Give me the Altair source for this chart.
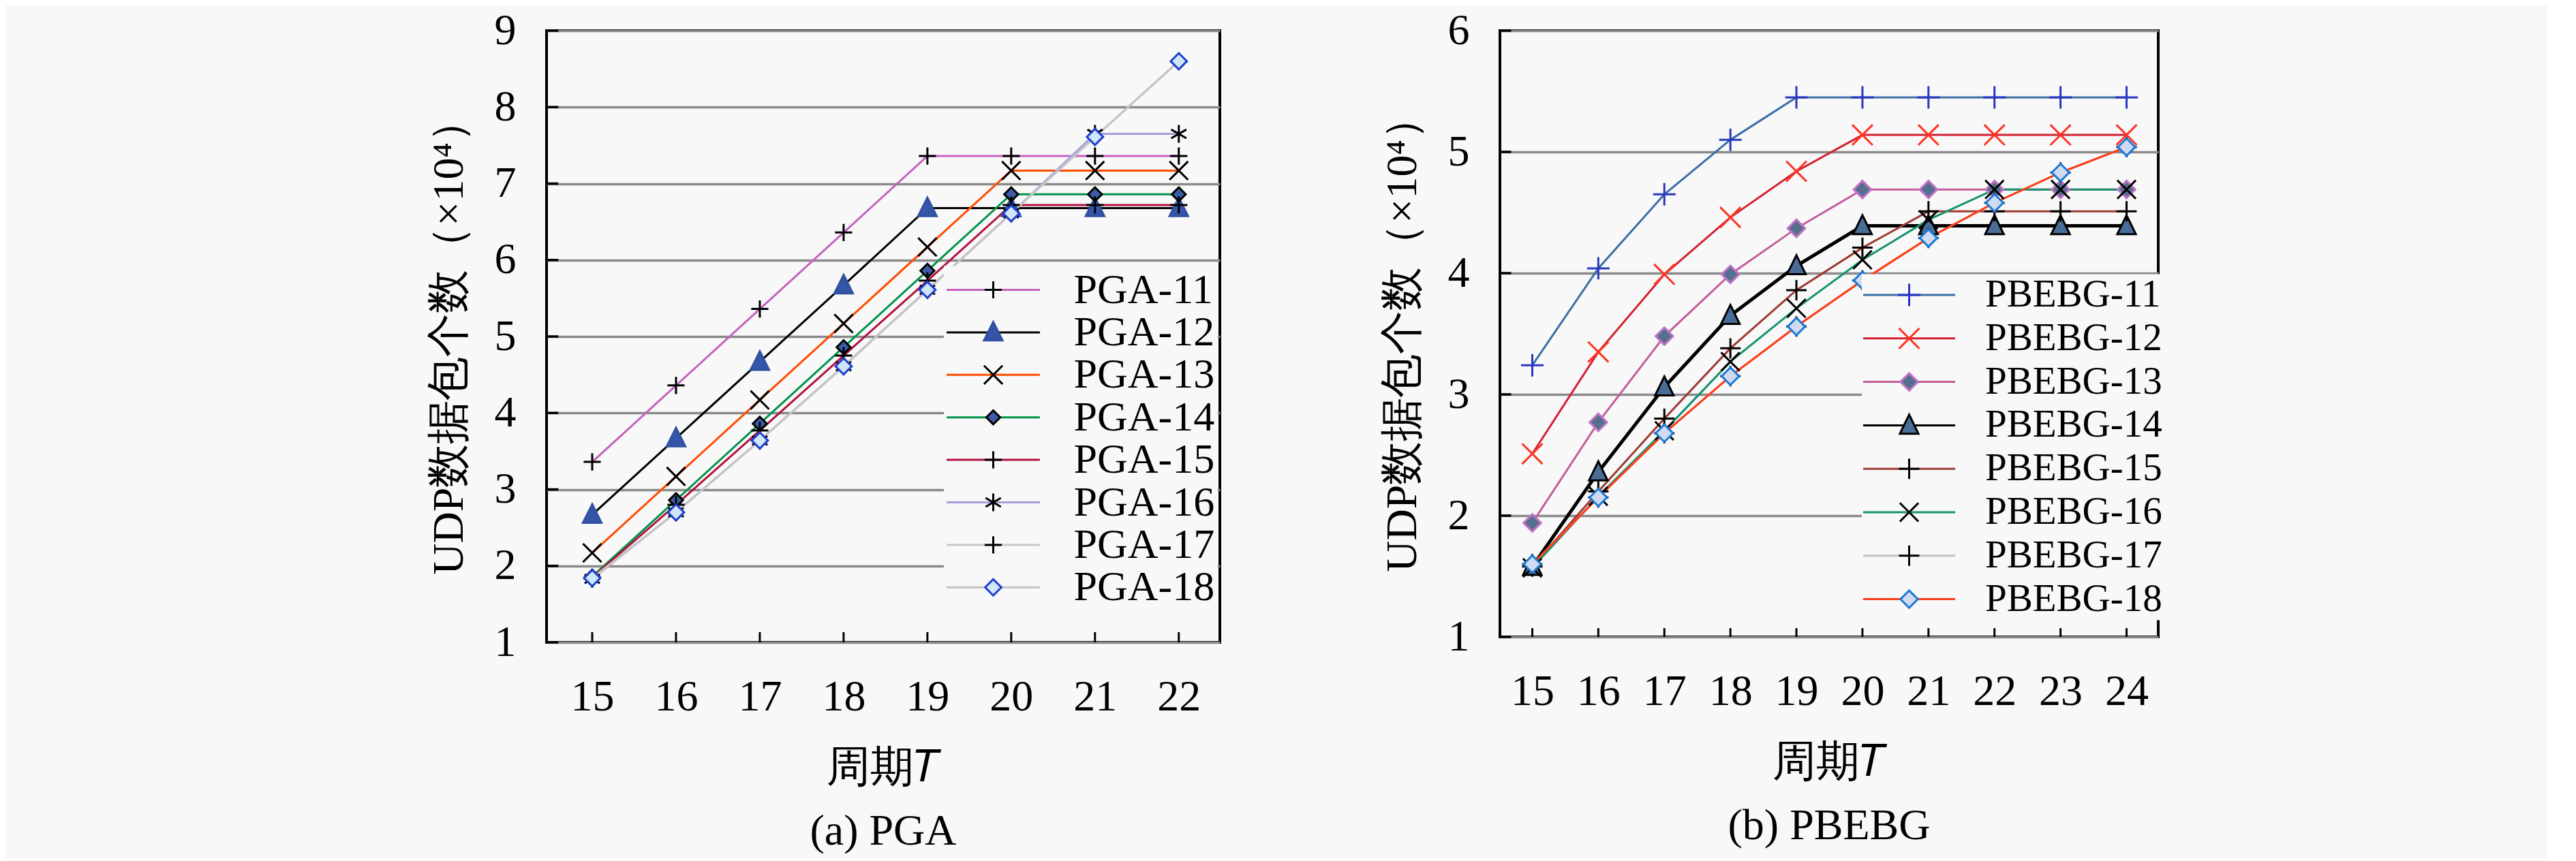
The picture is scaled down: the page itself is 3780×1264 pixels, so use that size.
import altair as alt
import pandas as pd

# ---------------- data ----------------
T_pga = [15, 16, 17, 18, 19, 20, 21, 22]
pga_names = ["PGA-11", "PGA-12", "PGA-13", "PGA-14", "PGA-15", "PGA-16", "PGA-17", "PGA-18"]
pga_11 = [3.36, 4.36, 5.36, 6.36, 7.36, 7.36, 7.36, 7.36]
pga_12 = [2.67, 3.67, 4.67, 5.67, 6.68, 6.68, 6.68, 6.68]
pga_13 = [2.17, 3.17, 4.17, 5.17, 6.17, 7.17, 7.17, 7.17]
pga_14 = [1.86, 2.86, 3.86, 4.86, 5.86, 6.86, 6.86, 6.86]
pga_15 = [1.85, 2.80, 3.77, 4.75, 5.73, 6.72, 6.72, 6.72]
pga_16 = [1.83, 2.70, 3.64, 4.61, 5.61, 6.61, 7.65, 7.65]
pga_17 = [1.84, 2.70, 3.64, 4.61, 5.61, 6.61, 7.61, 8.60]
pga_18 = [1.84, 2.70, 3.64, 4.61, 5.61, 6.61, 7.61, 8.60]
y_ticks_pga = [1, 2, 3, 4, 5, 6, 7, 8, 9]

T_pbebg = [15, 16, 17, 18, 19, 20, 21, 22, 23, 24]
pbebg_names = ["PBEBG-11", "PBEBG-12", "PBEBG-13", "PBEBG-14",
               "PBEBG-15", "PBEBG-16", "PBEBG-17", "PBEBG-18"]
pbebg_11 = [3.24, 4.04, 4.65, 5.10, 5.45, 5.45, 5.45, 5.45, 5.45, 5.45]
pbebg_12 = [2.51, 3.35, 3.99, 4.46, 4.84, 5.14, 5.14, 5.14, 5.14, 5.14]
pbebg_13 = [1.94, 2.77, 3.48, 3.99, 4.37, 4.69, 4.69, 4.69, 4.69, 4.69]
pbebg_14 = [1.58, 2.36, 3.06, 3.65, 4.06, 4.39, 4.39, 4.39, 4.39, 4.39]
pbebg_15 = [1.58, 2.20, 2.80, 3.38, 3.86, 4.21, 4.51, 4.51, 4.51, 4.51]
pbebg_16 = [1.57, 2.16, 2.70, 3.27, 3.71, 4.11, 4.44, 4.69, 4.69, 4.69]
pbebg_17 = [1.60, 2.15, 2.68, 3.15, 3.56, 3.94, 4.29, 4.58, 4.83, 5.04]
pbebg_18 = [1.60, 2.15, 2.68, 3.15, 3.56, 3.94, 4.29, 4.58, 4.83, 5.04]
y_ticks_pbebg = [1, 2, 3, 4, 5, 6]

y_title = "UDP数据包个数（×10⁴）"
x_title = "周期𝑇"

# ---------------- styles ----------------
FONT = "Liberation Serif, Noto Sans CJK SC"
AXFONT = "Liberation Serif"
BG = "#f8f8f8"
MK = 1156  # marker nominal size (34px box); shapes below are in units of 17px


def plus(a):
    return f"M{-a:.3f},0H{a:.3f}M0,{-a:.3f}V{a:.3f}"


def cross(a):
    return f"M{-a:.3f},{-a:.3f}L{a:.3f},{a:.3f}M{-a:.3f},{a:.3f}L{a:.3f},{-a:.3f}"


def diamond(a):
    return f"M0,{-a:.3f}L{a:.3f},0L0,{a:.3f}L{-a:.3f},0Z"


def tri(w, t, b):
    return f"M0,{-t:.3f}L{w:.3f},{b:.3f}L{-w:.3f},{b:.3f}Z"


def aster(a):
    c, s = 0.866 * a, 0.5 * a
    return (f"M0,{-a:.3f}V{a:.3f}M{-c:.3f},{-s:.3f}L{c:.3f},{s:.3f}"
            f"M{-c:.3f},{s:.3f}L{c:.3f},{-s:.3f}")


pga_line_colors = ["#c561c0", "#000000", "#ff4c00", "#009448",
                   "#b4103e", "#a3a0dc", "#c8c8c8", "#c4c4c4"]
pga_shapes = [plus(0.74), tri(0.8, 0.9, 0.7), cross(0.8), diamond(0.6),
              plus(0.74), aster(0.76), plus(0.74), diamond(0.7)]
pga_fill = ["transparent", "#3556a8", "transparent", "#3c5da6",
            "transparent", "transparent", "transparent", "#cfe6f7"]
pga_stroke = ["#000000", "#3050a0", "#000000", "#000000",
              "#000000", "#000000", "#000000", "#1f3fd0"]

pbebg_line_colors = ["#3a6ea6", "#d42030", "#c45c9c", "#000000",
                     "#9e3a34", "#14936a", "#c0c0c0", "#ff3a14"]
pbebg_shapes = [plus(0.97), cross(0.88), diamond(0.75), tri(0.8, 0.92, 0.72),
                plus(0.88), cross(0.8), plus(0.88), diamond(0.75)]
pbebg_fill = ["transparent", "transparent", "#55708f", "#4a6d98",
              "transparent", "transparent", "transparent", "#d2daf2"]
pbebg_stroke = ["#2a36c0", "#ff3322", "#c072c4", "#000000",
                "#000000", "#000000", "#000000", "#1a7ad4"]


def long_df(T, names, series):
    rows = []
    for n, vals in zip(names, series):
        for t, v in zip(T, vals):
            rows.append({"T": t, "v": v, "s": n, "m": n + "\u200b"})
    return pd.DataFrame(rows)


def panel(T, names, series, yvals, line_colors, shapes, fills, strokes,
          xdom, ydom, W, H, xtick_len, ytick_len, leg, caption):
    df = long_df(T, names, series)
    mnames = [n + "\u200b" for n in names]
    xs = alt.Scale(domain=xdom, nice=False, zero=False)
    ys = alt.Scale(domain=ydom, nice=False, zero=False)
    xaxis = alt.Axis(values=T, format="d", title=x_title, ticks=False, tickSize=0,
                     domain=False, grid=False, labelPadding=48, titlePadding=40,
                     labelFontSize=64, titleFontSize=64, labelFont=AXFONT, titleFont=AXFONT,
                     titleFontWeight="normal", labelColor="black", titleColor="black",
                     labelFlush=False, labelOverlap=False)
    yaxis = alt.Axis(values=yvals, format="d", title=y_title,
                     ticks=False, tickSize=0, domain=False, grid=True,
                     gridColor="#8a8a8a", gridWidth=3.5, labelPadding=45, titlePadding=34,
                     labelFontSize=64, titleFontSize=64, labelFont=AXFONT, titleFont=AXFONT,
                     titleFontWeight="normal", labelColor="black", titleColor="black",
                     labelFlush=False, labelOverlap=False)
    common = dict(title=None, orient="none", legendX=leg["x"], legendY=leg["y"],
                  symbolSize=MK, symbolStrokeWidth=3, symbolOffset=leg["so"],
                  labelOffset=leg["lo"], labelFontSize=leg["fs"], labelFont=FONT,
                  labelColor="black", labelLimit=0, rowPadding=leg["rp"],
                  padding=leg["pad"])
    legA = alt.Legend(symbolType=leg["path"], fillColor=BG, zindex=1, **common)
    legB = alt.Legend(labelOpacity=0, zindex=2, **common)

    xticks = alt.Chart(pd.DataFrame({"T": T})).mark_rule(
        color="black", strokeWidth=3).encode(
        x=alt.X("T:Q", scale=xs, axis=xaxis),
        y=alt.datum(ydom[0], scale=ys, axis=yaxis),
        y2=alt.datum(ydom[0] + xtick_len))
    yticks = alt.Chart(pd.DataFrame({"yv": yvals})).mark_rule(
        color="black", strokeWidth=3.5).encode(
        y=alt.Y("yv:Q", scale=ys, axis=yaxis),
        x=alt.datum(xdom[0], scale=xs, axis=xaxis),
        x2=alt.datum(xdom[0] + ytick_len))

    lines = alt.Chart(df).mark_line().encode(
        x=alt.X("T:Q", scale=xs, axis=xaxis),
        y=alt.Y("v:Q", scale=ys, axis=yaxis),
        color=alt.Color("s:N", scale=alt.Scale(domain=names, range=line_colors), legend=legA),
        strokeWidth=alt.condition(alt.datum.s == "PBEBG-14", alt.value(5), alt.value(3)),
    )
    pts = alt.Chart(df).mark_point(opacity=1, size=MK, strokeWidth=3).encode(
        x=alt.X("T:Q", scale=xs, axis=xaxis),
        y=alt.Y("v:Q", scale=ys, axis=yaxis),
        shape=alt.Shape("m:N", scale=alt.Scale(domain=mnames, range=shapes), legend=legB),
        fill=alt.Fill("m:N", scale=alt.Scale(domain=mnames, range=fills), legend=legB),
        stroke=alt.Stroke("m:N", scale=alt.Scale(domain=mnames, range=strokes), legend=legB),
    )
    return alt.layer(xticks, yticks, lines, pts).properties(
        width=W, height=H,
        title=alt.TitleParams(caption, orient="bottom", fontSize=64, font=FONT,
                              fontWeight="normal", color="black", offset=30,
                              anchor="middle", frame="group"))


left = panel(T_pga, pga_names,
             [pga_11, pga_12, pga_13, pga_14, pga_15, pga_16, pga_17, pga_18], y_ticks_pga,
             pga_line_colors, pga_shapes, pga_fill, pga_stroke,
             [14.455, 22.49], [1, 9], 988, 898, 0.134, 0.14,
             dict(x=583, y=345.5, so=37.5, lo=87, fs=62, rp=0.4, pad=4, path="M-4.03,0H4.03"),
             "(a) PGA")
right = panel(T_pbebg, pbebg_names,
              [pbebg_11, pbebg_12, pbebg_13, pbebg_14, pbebg_15, pbebg_16, pbebg_17, pbebg_18],
              y_ticks_pbebg,
              pbebg_line_colors, pbebg_shapes, pbebg_fill, pbebg_stroke,
              [14.51, 24.48], [1, 6], 966, 890, 0.072, 0.17,
              dict(x=531, y=357.5, so=39, lo=83, fs=57, rp=5.8, pad=2, path="M-3.97,0H3.97"),
              "(b) PBEBG")

chart = alt.hconcat(left, right, spacing=232).resolve_scale(
    color="independent", shape="independent", fill="independent", stroke="independent",
    x="independent", y="independent"
).resolve_legend(
    color="independent", shape="independent", fill="independent", stroke="independent"
).properties(
    padding={"left": 617, "top": 3, "right": 560, "bottom": 5},
    background=BG,
).configure(
    font=FONT
).configure_axis(
    labelFont=AXFONT, titleFont=AXFONT
).configure_legend(
    labelFont=FONT
).configure_title(
    font=FONT
).configure_view(
    stroke="black", strokeWidth=4, fill=None
)

chart.save("out.html", embed_options={"renderer": "svg", "actions": False})
